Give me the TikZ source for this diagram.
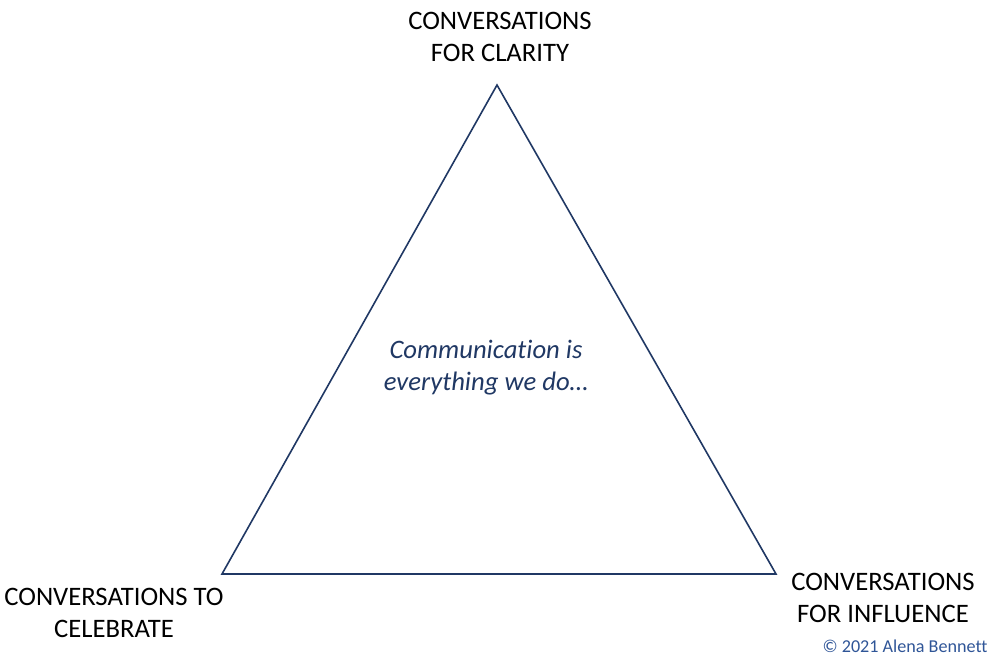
\documentclass[tikz,border=0pt]{standalone}
\usepackage{fontspec}
\setmainfont[Ligatures={NoCommon}]{Carlito}
\definecolor{navy}{HTML}{203864}
\definecolor{copyblue}{HTML}{2F5597}
\begin{document}
\begin{tikzpicture}[x=0.75pt,y=-0.75pt,
  lbl/.style={align=center,font=\fontsize{20pt}{24pt}\selectfont,text=black,inner sep=0pt},
  mid/.style={align=center,font=\fontsize{20pt}{24pt}\selectfont\itshape,text=navy,inner sep=0pt},
  tri/.style={draw=navy,line width=1.2pt,line join=miter}]
\useasboundingbox (0,0) rectangle (993,658);
\coordinate (t) at (497,85);
\coordinate (l) at (222,574);
\coordinate (r) at (776,574);
\draw[tri] (t) -- (l) -- (r) -- cycle;
\node[lbl] (top) at (500,37) {CONVERSATIONS\\FOR CLARITY};
\node[lbl] (bl) at (114,613) {CONVERSATIONS TO\\CELEBRATE};
\node[lbl] (br) at (883,598) {CONVERSATIONS\\FOR INFLUENCE};
\node[mid] (c) at (486,368) {Communication is\\everything we do\dots};
\node[inner sep=0pt,text=copyblue,font=\fontsize{13.6pt}{16pt}\selectfont] (copy) at (905,646) {© 2021 Alena Bennett};
\end{tikzpicture}
\end{document}
